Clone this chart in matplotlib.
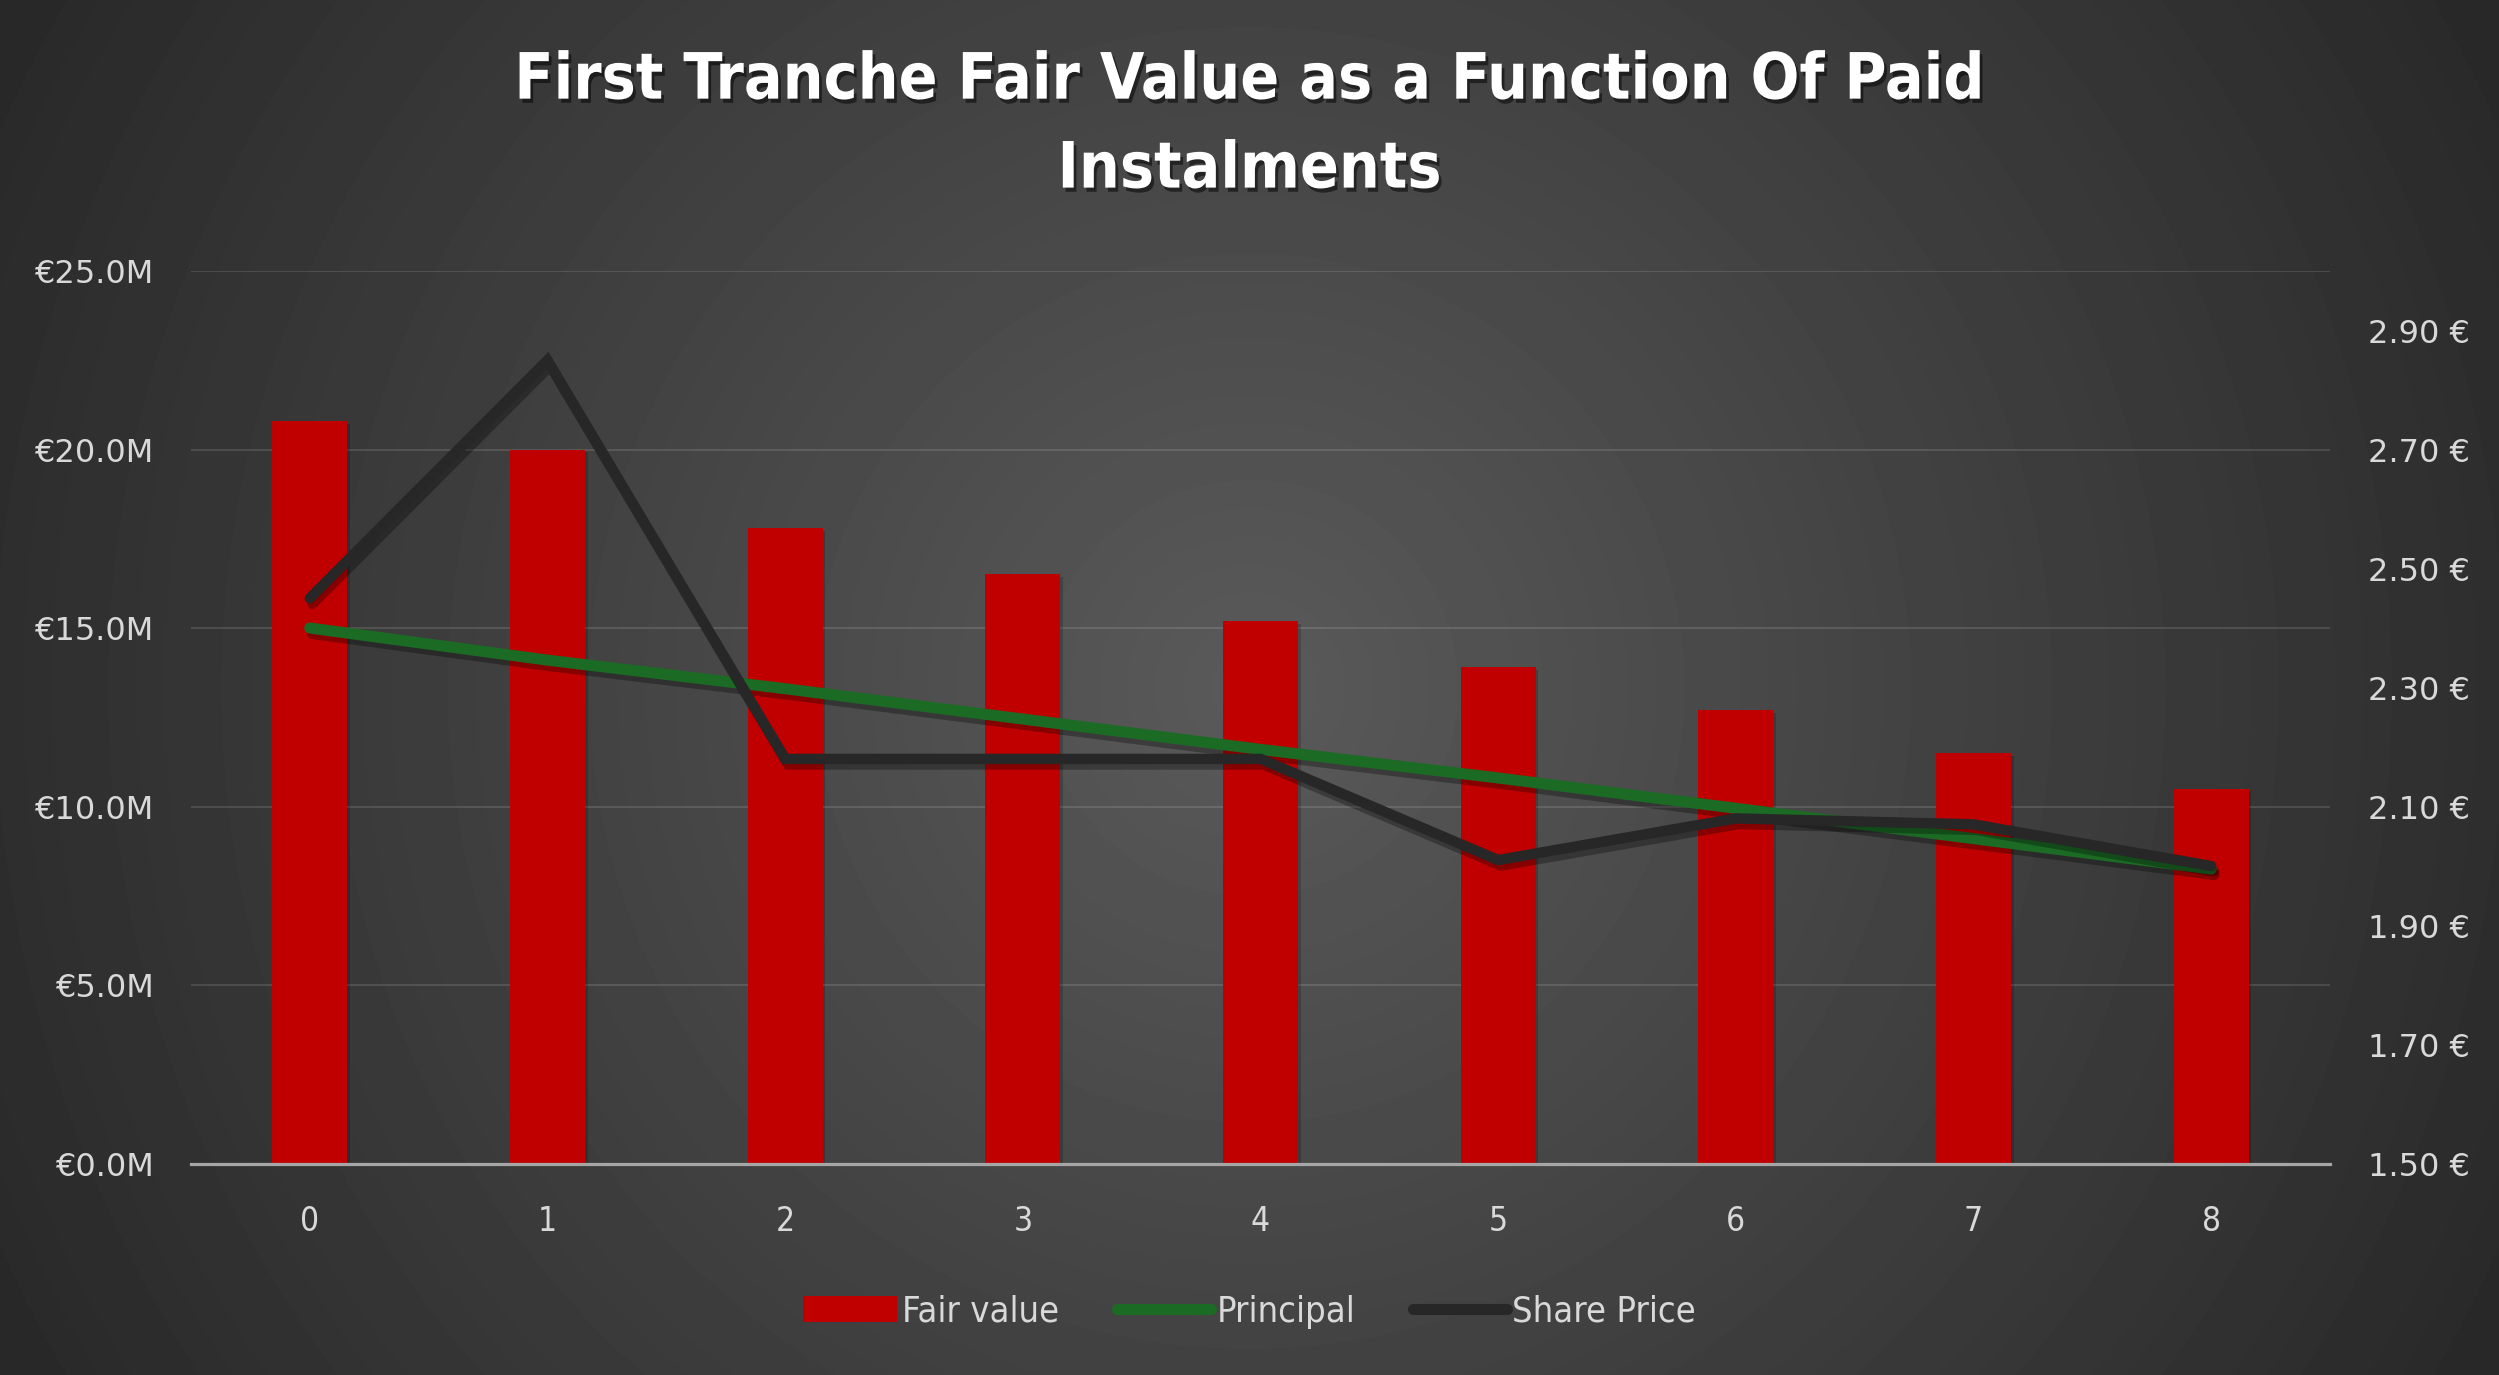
import numpy as np
import matplotlib
matplotlib.use("Agg")
import matplotlib.pyplot as plt
import matplotlib.patheffects as pe
from matplotlib.lines import Line2D
from matplotlib.patches import Patch

# data
instalments = [0, 1, 2, 3, 4, 5, 6, 7, 8]
fair_value = [20.8, 20.0, 17.8, 16.5, 15.2, 13.9, 12.7, 11.5, 10.5]   # € millions
principal = [15.0, 14.1, 13.3, 12.45, 11.6, 10.8, 9.95, 9.1, 8.25]  # € millions
share_price = [2.45, 2.85, 2.18, 2.18, 2.18, 2.01, 2.08, 2.07, 2.00]  # €

left_ticks = [0, 5, 10, 15, 20, 25]
right_ticks = [1.5, 1.7, 1.9, 2.1, 2.3, 2.5, 2.7, 2.9]

title = "First Tranche Fair Value as a Function Of Paid\nInstalments"

red = "#C00000"
green = "#1B6B24"
black = "#272727"
txt = "#D9D9D9"

fig = plt.figure(figsize=(24.99, 13.75), dpi=100)

# radial grey background
bg = fig.add_axes([0, 0, 1, 1], zorder=-5)
W, H = 2499, 1375
yy, xx = np.mgrid[0:H, 0:W]
d = np.hypot(xx - W / 2, yy - H / 2)
shade = np.clip(90 - d * 0.0352, 40, 90) / 255.0
bg.imshow(shade, cmap="gray", vmin=0, vmax=1, aspect="auto", interpolation="bilinear")
bg.axis("off")

ax = fig.add_axes([0.0764, 0.1538, 0.856, 0.6491])
ax.set_facecolor("none")

bar_shadow = [pe.SimplePatchShadow(offset=(2, -2), shadow_rgbFace="black", alpha=0.18), pe.Normal()]
line_shadow = [pe.SimpleLineShadow(offset=(2, -4), shadow_color="black", alpha=0.3), pe.Normal()]

ax.bar(instalments, fair_value, width=0.315, color=red, zorder=2, path_effects=bar_shadow)
ax.plot(instalments, principal, color=green, lw=8, solid_capstyle="round",
        solid_joinstyle="round", zorder=3, path_effects=line_shadow)

ax.set_xlim(-0.5, 8.5)
ax.set_ylim(0, 25)
ax.set_yticks(left_ticks)
ax.set_yticklabels([f"€{v:.1f}M" for v in left_ticks])
ax.set_xticks(instalments)
ax.set_xticklabels([str(i) for i in instalments])
ax.grid(axis="y", color="white", alpha=0.12, lw=1.5)
ax.set_axisbelow(True)
for s in ["top", "left", "right"]:
    ax.spines[s].set_visible(False)
ax.spines["bottom"].set_color("#A6A6A6")
ax.spines["bottom"].set_linewidth(2.3)
ax.tick_params(axis="y", length=0, pad=27, labelsize=23, labelcolor=txt)
ax.tick_params(axis="x", length=0, pad=30, labelsize=24, labelcolor=txt)
for lab in ax.get_xticklabels():
    lab.set_fontstretch("condensed")

ax2 = ax.twinx()
ax2.plot(instalments, share_price, color=black, lw=7.5, solid_capstyle="round",
         solid_joinstyle="miter", zorder=4, path_effects=line_shadow)
ax2.set_ylim(1.5, 3.0)
ax2.set_yticks(right_ticks)
ax2.set_yticklabels([f"{v:.2f} €" for v in right_ticks])
ax2.tick_params(axis="y", length=0, pad=27, labelsize=23, labelcolor=txt)
for s in ax2.spines.values():
    s.set_visible(False)

fig.text(0.5, 0.909, title, ha="center", va="center", color="white",
         fontsize=46, fontweight="bold", fontstretch="condensed", linespacing=1.55,
         path_effects=[pe.withSimplePatchShadow(offset=(2, -3), shadow_rgbFace="black", alpha=0.5)])

handles = [Patch(facecolor=red),
           Line2D([], [], color=green, lw=8, solid_capstyle="round"),
           Line2D([], [], color=black, lw=8, solid_capstyle="round")]
leg = fig.legend(handles, ["Fair value", "Principal", "Share Price"], loc="center",
                 bbox_to_anchor=(0.5, 0.046), ncol=3, frameon=False,
                 handlelength=2.6, handleheight=0.7, handletextpad=0.15, columnspacing=1.6,
                 prop={"size": 26, "stretch": "condensed"})
for t in leg.get_texts():
    t.set_color(txt)

fig.savefig("out.png", dpi=100)
